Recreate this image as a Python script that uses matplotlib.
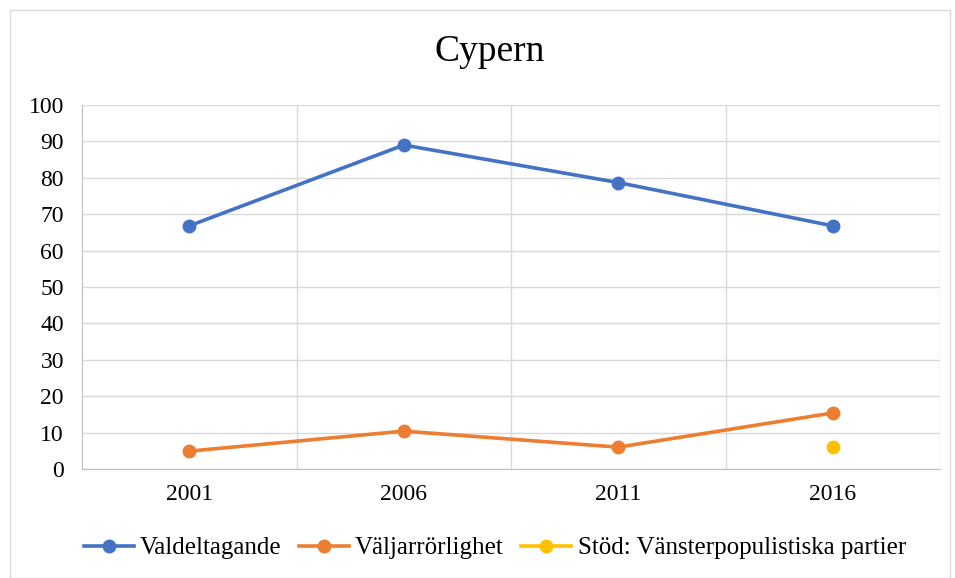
import matplotlib.pyplot as plt
from matplotlib.patches import Rectangle

years = ['2001', '2006', '2011', '2016']
valdeltagande = [66.8, 89.0, 78.7, 66.8]
valjarrorlighet = [4.9, 10.4, 6.0, 15.4]
stod_vp = [None, None, None, 6.0]

plt.rcParams['font.family'] = ['Liberation Serif', 'DejaVu Serif']

fig = plt.figure(figsize=(9.55, 5.78), dpi=100)
# outer chart border
fig.patches.append(Rectangle((10 / 955, 0), 940 / 955, 568 / 578, transform=fig.transFigure,
                             fill=False, edgecolor='#d9d9d9', linewidth=1))

ax = fig.add_axes([82 / 955, 1 - 469 / 578, 858 / 955, 364 / 578])
x = list(range(1, len(years) + 1))

ax.plot(x, valdeltagande, color='#4472c4', lw=2.6, marker='o', ms=9, label='Valdeltagande')
ax.plot(x, valjarrorlighet, color='#ed7d31', lw=2.6, marker='o', ms=9, label='Väljarrörlighet')
xs = [xi for xi, v in zip(x, stod_vp) if v is not None]
ys = [v for v in stod_vp if v is not None]
ax.plot(xs, ys, color='#ffc000', lw=2.6, marker='o', ms=9,
        label='Stöd: Vänsterpopulistiska partier')

ax.set_xlim(0.5, len(years) + 0.5)
ax.set_ylim(0, 100)
ax.set_yticks(range(0, 101, 10))
ax.set_xticks(x)
ax.set_xticklabels(years)
ax.set_xticks([i + 0.5 for i in x], minor=True)
ax.grid(True, which='minor', axis='x', color='#d9d9d9', lw=1)
ax.grid(True, which='major', axis='y', color='#d9d9d9', lw=1)
ax.set_axisbelow(True)
ax.tick_params(which='both', length=0, labelsize=17, colors='black')
ax.tick_params(axis='x', pad=11)
ax.tick_params(axis='y', pad=13)
for s in ['top', 'right']:
    ax.spines[s].set_visible(False)
ax.spines['bottom'].set_color('#bfbfbf')
ax.spines['left'].set_color('#bfbfbf')

fig.text(0.513, 1 - 52 / 578, 'Cypern', ha='center', va='center', fontsize=27)

fig.legend(loc='center', bbox_to_anchor=(0.518, 1 - 548 / 578), ncol=3, frameon=False,
           fontsize=18, handlelength=2.0, columnspacing=0.7, handletextpad=0.25)

fig.savefig('out.png', dpi=100)
